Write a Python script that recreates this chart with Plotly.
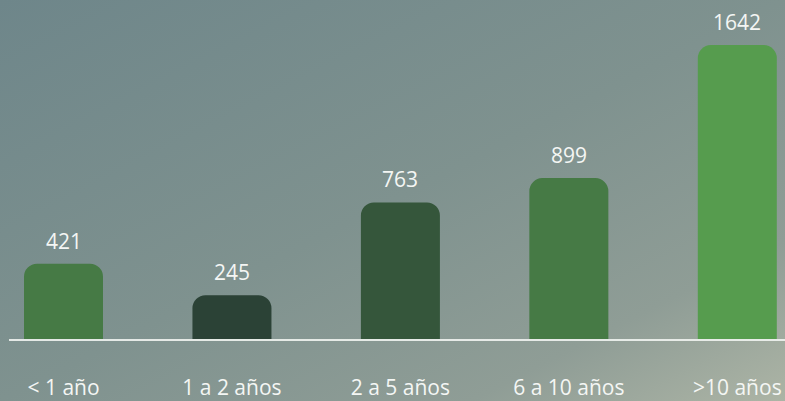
import base64
import plotly.graph_objects as go

categories = ["< 1 año", "1 a 2 años", "2 a 5 años", "6 a 10 años", ">10 años"]
values = [421, 245, 763, 899, 1642]
bar_colors = ["#467a45", "#2b4236", "#35563b", "#467a45", "#569c4e"]

W, H = 785, 401
ML, MR, MT, MB = 9, 0, 20, 62
PW, PH = W - ML - MR, H - MT - MB

svg = f'''<svg xmlns="http://www.w3.org/2000/svg" width="{W}" height="{H}" viewBox="0 0 {W} {H}" preserveAspectRatio="none">
<defs><linearGradient id="g" x1="0" y1="0" x2="1" y2="1">
<stop offset="0" stop-color="#6e868a"/>
<stop offset="0.5" stop-color="#7f928f"/>
<stop offset="0.8" stop-color="#8f9d96"/>
<stop offset="1" stop-color="#acb4a5"/>
</linearGradient></defs>
<rect width="{W}" height="{H}" fill="url(#g)"/></svg>'''
bg = "data:image/svg+xml;base64," + base64.b64encode(svg.encode()).decode()

fig = go.Figure(go.Bar(
    x=categories, y=values, marker=dict(color=bar_colors, line_width=0),
    width=0.469, hoverinfo="skip"))

for c, v in zip(categories, values):
    fig.add_annotation(x=c, y=v, text=str(v), showarrow=False, yanchor="bottom",
                       yshift=7, font=dict(family="Open Sans", size=21, color="#f4f6f4"))

fig.update_layout(
    width=W, height=H,
    margin=dict(l=ML, r=MR, t=MT, b=MB),
    paper_bgcolor="#7e918f", plot_bgcolor="rgba(0,0,0,0)",
    barcornerradius=13,
    showlegend=False,
    font=dict(family="Open Sans", size=21, color="#f4f6f4"),
    images=[dict(source=bg, xref="paper", yref="paper", x=-ML / PW, y=1 + MT / PH,
                 sizex=W / PW, sizey=H / PH, sizing="stretch", layer="below",
                 xanchor="left", yanchor="top")],
)
fig.update_xaxes(range=[-(63.5 - ML) / 168.45, (W - 63.5) / 168.45],
                 showline=True, linecolor="rgba(240,243,240,0.9)", linewidth=2,
                 showgrid=False, zeroline=False, ticks="", ticklabelstandoff=29,
                 tickfont=dict(family="Open Sans", size=21, color="#f4f6f4"))
fig.update_yaxes(range=[0, PH / 0.179], visible=False, showgrid=False, zeroline=False)

fig.write_html("out.html", config={"displayModeBar": False},
               post_script="document.body.style.margin='0';document.body.style.overflow='hidden';")
